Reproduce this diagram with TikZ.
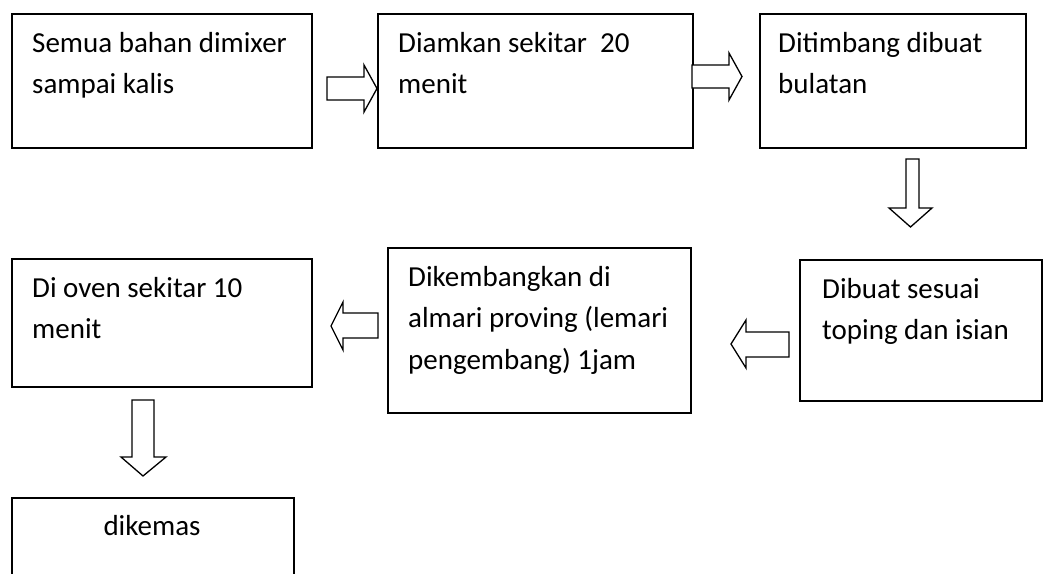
\documentclass[tikz,border=0pt]{standalone}
\usepackage{fontspec}
\setmainfont{Carlito}
\begin{document}
\begin{tikzpicture}[x=1pt,y=-1pt,
  box/.style={draw, line width=1.8pt, anchor=north west, inner sep=0pt},
  lbl/.style={anchor=base west, inner sep=0pt, align=left, font=\fontsize{29}{41.5}\selectfont},
  barrow/.style={draw, line width=1.3pt, line join=miter, fill=white}]
\useasboundingbox (0,0) rectangle (1043,573);
\clip (0,0) rectangle (1043,573);
% boxes
\node[box, minimum width=300pt, minimum height=134pt] (b1) at (11,13) {};
\node[box, minimum width=315pt, minimum height=134pt] (b2) at (377,13) {};
\node[box, minimum width=266pt, minimum height=134pt] (b3) at (759,13) {};
\node[box, minimum width=242pt, minimum height=141pt] (b4) at (799,259) {};
\node[box, minimum width=303pt, minimum height=165pt] (b5) at (387,247) {};
\node[box, minimum width=300pt, minimum height=128pt] (b6) at (11,258) {};
\node[box, minimum width=282pt, minimum height=90pt] (b7) at (11,497) {};
% texts (anchor = baseline of the last line)
\node[lbl] (t1) at (32,93.5) {Semua bahan dimixer\\sampai kalis};
\node[lbl] (t2) at (398,93.5) {Diamkan sekitar\ \ 20\\menit};
\node[lbl] (t3) at (778,93.5) {Ditimbang dibuat\\bulatan};
\node[lbl] (t4) at (822,339.5) {Dibuat sesuai\\toping dan isian};
\node[lbl] (t5) at (408,369) {Dikembangkan di\\almari proving (lemari\\pengembang) 1jam};
\node[lbl] (t6) at (32,338.5) {Di oven sekitar 10\\menit};
\node[lbl, anchor=base] (t7) at (152,535) {dikemas};
% block arrows
\draw[barrow] (327,77) -- (364,77) -- (364,65) -- (377,88.5) -- (364,112) -- (364,100) -- (327,100) -- cycle;
\draw[barrow] (692,65) -- (729,65) -- (729,53) -- (742,76.5) -- (729,100) -- (729,88) -- (692,88) -- cycle;
\draw[barrow] (906,159) -- (919,159) -- (919,208) -- (932,208) -- (910.5,227) -- (889,208) -- (906,208) -- cycle;
\draw[barrow] (789,332) -- (746,332) -- (746,320) -- (731,344) -- (746,368) -- (746,357) -- (789,357) -- cycle;
\draw[barrow] (378,313) -- (343,313) -- (343,302) -- (331,326) -- (343,350) -- (343,338) -- (378,338) -- cycle;
\draw[barrow] (132,400) -- (154,400) -- (154,457) -- (166,457) -- (143,476) -- (121,457) -- (132,457) -- cycle;
\end{tikzpicture}
\end{document}
